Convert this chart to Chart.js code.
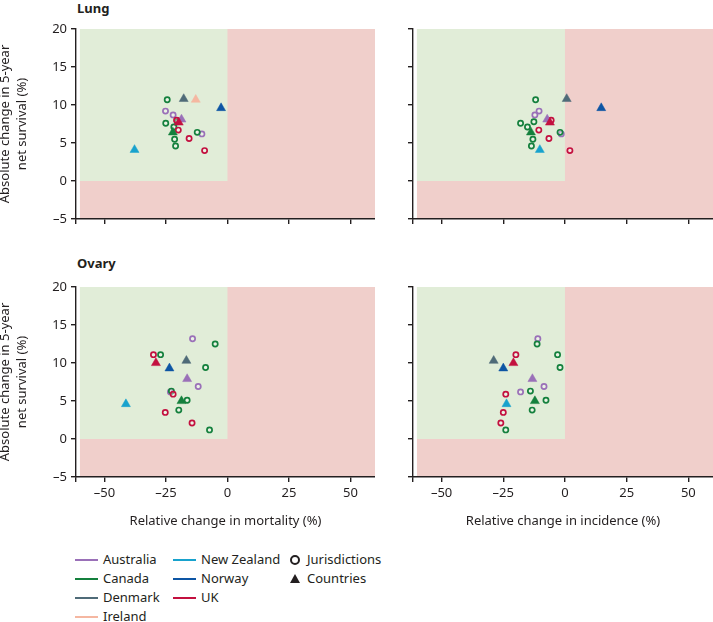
<!DOCTYPE html>
<html>
<head>
<meta charset="utf-8">
<script src="https://cdn.jsdelivr.net/npm/chart.js@4.4.1/dist/chart.umd.min.js"></script>
<style>
  body { margin: 0; width: 713px; height: 622px; position: relative; overflow: hidden; background: #fff;
         font-family: "Noto Sans", sans-serif; color: #231f20; }
  canvas { position: absolute; }
  .ptitle { position: absolute; left: 77px; font-weight: bold; font-size: 13px; line-height: 16px; }
  .lg { position: absolute; font-size: 13px; line-height: 19px; white-space: nowrap; }
  .lg .row { height: 19px; display: flex; align-items: center; }
  .lg .sw { width: 23px; height: 0; border-top: 2px solid; margin-right: 5px; }
  .sym { width: 12px; display: inline-flex; justify-content: center; margin-right: 6px; }
  .ring { width: 6px; height: 6px; border: 2px solid #231f20; border-radius: 50%; }
  .tri { width: 0; height: 0; border-left: 5px solid transparent; border-right: 5px solid transparent; border-bottom: 9px solid #231f20; }
</style>
</head>
<body>
<div class="ptitle" style="top:0px">Lung</div>
<div class="ptitle" style="top:255px">Ovary</div>
<canvas id="lungMort" width="375" height="240" style="left:0;top:0"></canvas>
<canvas id="lungInc" width="333" height="240" style="left:380px;top:0"></canvas>
<canvas id="ovMort" width="375" height="275" style="left:0;top:258px"></canvas>
<canvas id="ovInc" width="333" height="275" style="left:380px;top:258px"></canvas>
<div class="lg" id="lgCol1" style="left:75px;top:550px"></div>
<div class="lg" id="lgCol2" style="left:173px;top:550px"></div>
<div class="lg" style="left:289px;top:550px">
  <div class="row"><span class="sym"><span class="ring"></span></span>Jurisdictions</div>
  <div class="row"><span class="sym"><span class="tri"></span></span>Countries</div>
</div>
<script>
const COUNTRIES = ["Australia", "Canada", "Denmark", "Ireland", "New Zealand", "Norway", "UK"];
const COUNTRY_COLORS = {
    "Australia": "#9a70b8",
    "Canada": "#14803d",
    "Denmark": "#4f6b78",
    "Ireland": "#f5b7a1",
    "New Zealand": "#18a2cd",
    "Norway": "#0d55a4",
    "UK": "#c3103f",
};
const GREEN_ZONE = "#e1edd8";
const RED_ZONE = "#f0cfcb";
const AXIS = "#231f20";

const X_TICKS = [-50, -25, 0, 25, 50];
const Y_TICKS = [20, 15, 10, 5, 0, -5];
const X_MIN = -61.6, X_MAX = 60, ZONE_X_MIN = -60;
const Y_MIN = -5, Y_MAX = 20;

// Lung: jurisdictions (country, survival change, mortality change, incidence change)
const lungJurCountry = ["Australia", "Australia", "Australia",
    "Canada", "Canada", "Canada", "Canada", "Canada", "Canada", "Canada",
    "UK", "UK", "UK", "UK"];
const lungJurSurvival = [9.2, 8.7, 6.2, 10.7, 7.6, 7.8, 7.1, 6.4, 5.5, 4.6, 8.0, 6.7, 5.6, 4.0];
const lungJurMortality = [-25.2, -22.1, -10.4, -24.5, -25.1, -20.4, -21.8, -12.3, -21.5, -21.1, -20.7, -20.0, -15.6, -9.3];
const lungJurIncidence = [-10.5, -12.2, -1.5, -11.9, -18.0, -12.6, -15.2, -2.0, -13.0, -13.6, -5.6, -10.6, -6.5, 2.0];

// Lung: countries, in COUNTRIES order
const lungCountrySurvival = [8.1, 6.4, 10.8, 10.7, 4.1, 9.6, 7.7];
const lungCountryMortality = [-18.7, -22.2, -17.8, -12.9, -37.8, -2.6, -19.8];
const lungCountryIncidence = [-7.2, -13.8, 0.7, null, -10.2, 14.7, -6.1];

// Ovary: jurisdictions
const ovJurCountry = ["Australia", "Australia", "Australia",
    "Canada", "Canada", "Canada", "Canada", "Canada", "Canada", "Canada",
    "UK", "UK", "UK", "UK"];
const ovJurSurvival = [13.2, 6.9, 6.2, 12.5, 11.1, 9.4, 6.3, 5.1, 3.8, 1.2, 11.1, 5.9, 3.5, 2.1];
const ovJurMortality = [-14.2, -11.9, -23.2, -5.0, -27.2, -8.9, -22.8, -16.4, -19.8, -7.3, -30.1, -22.1, -25.3, -14.4];
const ovJurIncidence = [-11.0, -8.5, -18.0, -11.3, -3.0, -2.0, -14.0, -7.7, -13.3, -24.0, -19.9, -24.0, -25.0, -26.0];

// Ovary: countries (no Ireland point)
const ovCountrySurvival = [7.9, 5.0, 10.3, null, 4.6, 9.3, 10.0];
const ovCountryMortality = [-16.4, -18.7, -16.7, null, -41.3, -23.6, -29.1];
const ovCountryIncidence = [-13.2, -12.2, -28.9, null, -23.7, -25.0, -20.9];

const TICK_FONT = { family: "Noto Sans", size: 13 };
const TITLE_FONT = { family: "Noto Sans", size: 13, lineHeight: 1.3 };

const fmt = (v) => (v < 0 ? "\u2013" + Math.abs(v) : String(v));

const zonePlugin = {
    id: "zones",
    beforeDraw(chart) {
        const { ctx, scales: { x, y } } = chart;
        const box = (x0, x1, y0, y1, color) => {
            const l = x.getPixelForValue(x0), r = x.getPixelForValue(x1);
            const t = y.getPixelForValue(y1), b = y.getPixelForValue(y0);
            ctx.fillStyle = color;
            ctx.fillRect(l, t, r - l, b - t);
        };
        ctx.save();
        box(ZONE_X_MIN, X_MAX, Y_MIN, Y_MAX, RED_ZONE);
        box(ZONE_X_MIN, 0, 0, Y_MAX, GREEN_ZONE);
        ctx.restore();
    },
};

function points(xs, ys, names) {
    const out = { data: [], colors: [] };
    xs.forEach((xv, i) => {
        if (xv === null || ys[i] === null) return;
        out.data.push({ x: xv, y: ys[i] });
        out.colors.push(COUNTRY_COLORS[names[i]]);
    });
    return out;
}

function makePanel(id, opts) {
    const jur = points(opts.jurX, opts.jurY, opts.jurNames);
    const ctry = points(opts.ctryX, opts.ctryY, COUNTRIES);
    const axisGrid = { drawOnChartArea: false, drawTicks: true, tickLength: 5, color: AXIS, lineWidth: 1.4 };
    const axisBorder = { display: true, color: AXIS, width: 1.4 };

    return new Chart(document.getElementById(id), {
        type: "scatter",
        data: {
            datasets: [
                {
                    label: "Countries",
                    data: ctry.data,
                    pointStyle: "triangle",
                    pointRadius: 5.2,
                    pointBorderWidth: 0.5,
                    backgroundColor: ctry.colors,
                    borderColor: ctry.colors,
                    order: 0,
                },
                {
                    label: "Jurisdictions",
                    data: jur.data,
                    pointStyle: "circle",
                    pointRadius: 2.6,
                    pointBorderWidth: 1.7,
                    backgroundColor: "rgba(255,255,255,0.35)",
                    borderColor: jur.colors,
                    order: 1,
                },
            ],
        },
        options: {
            responsive: false,
            animation: false,
            events: [],
            layout: { autoPadding: false, padding: { top: 29, left: 0, right: 0, bottom: 0 } },
            plugins: { legend: { display: false }, tooltip: { enabled: false } },
            scales: {
                x: {
                    type: "linear",
                    min: X_MIN,
                    max: X_MAX,
                    afterBuildTicks: (s) => { s.ticks = [{ value: X_MIN }, ...X_TICKS.map((v) => ({ value: v }))]; },
                    afterFit: (s) => { s.height = opts.xHeight; },
                    grid: axisGrid,
                    border: axisBorder,
                    ticks: {
                        display: opts.xLabels,
                        autoSkip: false,
                        maxRotation: 0,
                        padding: 3,
                        font: TICK_FONT,
                        color: AXIS,
                        callback: (v) => (v === X_MIN ? "" : fmt(v)),
                    },
                    title: {
                        display: !!opts.xTitle,
                        text: opts.xTitle || "",
                        font: TITLE_FONT,
                        color: AXIS,
                        padding: { top: 0, bottom: 3 },
                    },
                },
                y: {
                    type: "linear",
                    min: Y_MIN,
                    max: Y_MAX,
                    afterBuildTicks: (s) => { s.ticks = Y_TICKS.map((v) => ({ value: v })); },
                    afterFit: (s) => { s.width = opts.yWidth; },
                    grid: axisGrid,
                    border: axisBorder,
                    ticks: {
                        display: opts.yLabels,
                        autoSkip: false,
                        padding: 4,
                        font: TICK_FONT,
                        color: AXIS,
                        callback: (v) => fmt(v),
                    },
                    title: {
                        display: opts.yLabels,
                        text: ["Absolute change in 5-year", "net survival (%)"],
                        font: TITLE_FONT,
                        color: AXIS,
                        padding: { top: -3, bottom: 0 },
                    },
                },
            },
        },
        plugins: [zonePlugin],
    });
}

makePanel("lungMort", {
    jurX: lungJurMortality, jurY: lungJurSurvival, jurNames: lungJurCountry,
    ctryX: lungCountryMortality, ctryY: lungCountrySurvival,
    xHeight: 21, yWidth: 76, xLabels: false, yLabels: true,
});
makePanel("lungInc", {
    jurX: lungJurIncidence, jurY: lungJurSurvival, jurNames: lungJurCountry,
    ctryX: lungCountryIncidence, ctryY: lungCountrySurvival,
    xHeight: 21, yWidth: 33, xLabels: false, yLabels: false,
});
makePanel("ovMort", {
    jurX: ovJurMortality, jurY: ovJurSurvival, jurNames: ovJurCountry,
    ctryX: ovCountryMortality, ctryY: ovCountrySurvival,
    xHeight: 56, yWidth: 76, xLabels: true, yLabels: true,
    xTitle: "Relative change in mortality (%)",
});
makePanel("ovInc", {
    jurX: ovJurIncidence, jurY: ovJurSurvival, jurNames: ovJurCountry,
    ctryX: ovCountryIncidence, ctryY: ovCountrySurvival,
    xHeight: 56, yWidth: 33, xLabels: true, yLabels: false,
    xTitle: "Relative change in incidence (%)",
});

// legend: coloured lines per country, then symbol key
function legendColumn(el, names) {
    el.innerHTML = names.map((n) =>
        `<div class="row"><span class="sw" style="border-color:${COUNTRY_COLORS[n]}"></span>${n}</div>`
    ).join("");
}
legendColumn(document.getElementById("lgCol1"), COUNTRIES.slice(0, 4));
legendColumn(document.getElementById("lgCol2"), COUNTRIES.slice(4));
</script>
</body>
</html>
